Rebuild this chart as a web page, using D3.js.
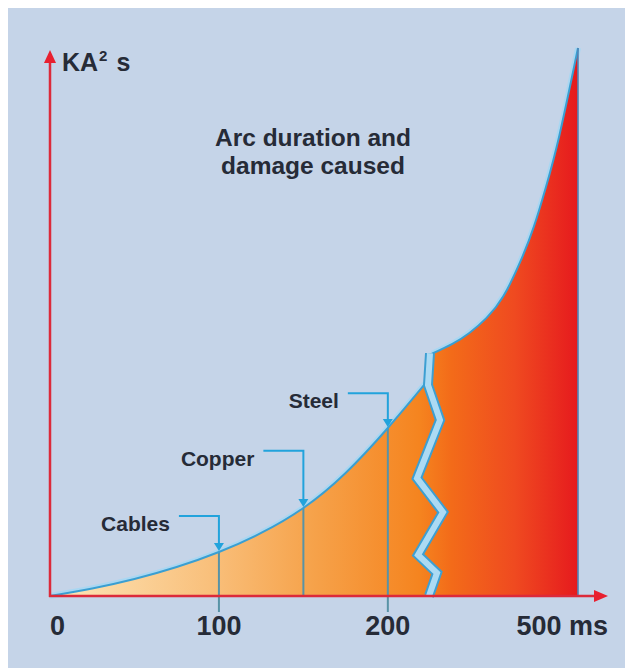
<!DOCTYPE html>
<html><head><meta charset="utf-8">
<script src="https://cdn.jsdelivr.net/npm/d3@7"></script>
<style>
body{margin:0;background:#fff}
text{font-family:"Liberation Sans",Arial,sans-serif;font-weight:bold;fill:#262b37}
</style>
</head><body>
<svg id="chart" width="625" height="668"></svg>
<script>
// ---- data ----
const leftTimes  = [0, 25, 50, 75, 100, 125, 150, 175, 200, 222];                 // ms
const leftValues = [0, 1.37, 3.10, 5.29, 8.03, 11.50, 16.06, 22.45, 30.66, 38.69]; // KA²s (relative)
const rightTimes  = [413, 426, 436, 446, 456, 466, 474, 481, 489, 500];
const rightValues = [44.2, 46.0, 48.0, 50.7, 54.7, 61.0, 67.4, 74.5, 84.0, 100];
const markerNames  = ["Cables", "Copper", "Steel"];
const markerTimes  = [100, 150, 200];
const markerLevels = [14.6, 26.5, 37.0];      // height of callout line (KA²s units)
const markerBelow  = [true, false, true];     // line continues below the axis
const tickValues = [0, 100, 200, 500];
const tickLabels = ["0", "100", "200", "500 ms"];
const breakTime = 222;
// axis-break zigzag: horizontal offset (px) from break, value (KA²s units)
const zigOffsets = [5, 3, 15, -8, 18, -7, 12, 4];
const zigValues  = [44.3, 38.5, 32.1, 21.5, 15.3, 7.5, 4.2, 0];
const titleLines = ["Arc duration and", "damage caused"];
const yTitle = "KA";

// ---- scales ----
const x = d3.scaleLinear().domain([0, 222, 414, 500]).range([50, 425, 432, 578]);
const y = d3.scaleLinear().domain([0, 100]).range([596, 48]);

const svg = d3.select("#chart");
svg.append("rect").attr("x", 8).attr("y", 8).attr("width", 617).attr("height", 660).attr("fill", "#c5d4e8");

const defs = svg.append("defs");
const grad = defs.append("linearGradient").attr("id", "g").attr("gradientUnits", "userSpaceOnUse")
  .attr("x1", x(0)).attr("x2", x(500)).attr("y1", 0).attr("y2", 0);
[[0, "#fde7ba"], [0.3, "#f9c07c"], [0.5, "#f6a24a"], [0.7, "#f5841f"], [0.76, "#f36b19"], [0.88, "#ef4a20"], [1, "#e61a1e"]]
  .forEach(([o, c]) => grad.append("stop").attr("offset", o).attr("stop-color", c));

const leftPts = leftTimes.map((t, i) => [x(t), y(leftValues[i])]);
const rightPts = rightTimes.map((t, i) => [x(t), y(rightValues[i])]);
const zigPts = zigOffsets.map((d, i) => [x(breakTime) + d, y(zigValues[i])]);
const curve = d3.line().curve(d3.curveNatural);

// halos
svg.append("path").attr("d", curve(leftPts)).attr("fill", "none").attr("stroke", "#a9d7f2").attr("stroke-width", 6);
svg.append("path").attr("d", curve(rightPts)).attr("fill", "none").attr("stroke", "#a9d7f2").attr("stroke-width", 6);

// left area
let dl = curve(leftPts);
zigPts.slice(1).forEach(p => dl += "L" + p[0] + "," + p[1]);
dl += "L" + x(0) + "," + y(0) + "Z";
svg.append("path").attr("d", dl).attr("fill", "url(#g)");
// right area
let dr = "M" + zigPts[zigPts.length - 1].join(",");
zigPts.slice().reverse().slice(1).forEach(p => dr += "L" + p[0] + "," + p[1]);
dr += curve(rightPts).replace(/^M/, "L");
dr += "L" + x(500) + "," + y(0) + "Z";
svg.append("path").attr("d", dr).attr("fill", "url(#g)");

// y on the rendered left curve at a given time
const probe = svg.append("path").attr("d", curve(leftPts)).attr("fill", "none").node();
const curveYAt = (t) => {
  const L = probe.getTotalLength(), px = x(t);
  let lo = 0, hi = L;
  for (let k = 0; k < 40; k++) { const m = (lo + hi) / 2; if (probe.getPointAtLength(m).x < px) lo = m; else hi = m; }
  return probe.getPointAtLength(lo).y;
};

// reference lines below the curve
markerTimes.forEach((t, i) => {
  const cy = curveYAt(t);
  svg.append("line").attr("x1", x(t)).attr("x2", x(t)).attr("y1", cy).attr("y2", markerBelow[i] ? y(0) + 16 : y(0))
    .attr("stroke", "#5893a6").attr("stroke-width", 2);
});

// curves
svg.append("path").attr("d", curve(leftPts)).attr("fill", "none").attr("stroke", "#3a9fd2").attr("stroke-width", 2);
svg.append("path").attr("d", curve(rightPts)).attr("fill", "none").attr("stroke", "#3a9fd2").attr("stroke-width", 2);
svg.append("line").attr("x1", x(500)).attr("x2", x(500)).attr("y1", y(100)).attr("y2", y(0))
  .attr("stroke", "#4f86b8").attr("stroke-width", 1.6);

// zigzag break band
const zl = d3.line();
svg.append("path").attr("d", zl(zigPts)).attr("fill", "none").attr("stroke", "#3d9fd2").attr("stroke-width", 10).attr("stroke-linejoin", "miter");
svg.append("path").attr("d", zl(zigPts)).attr("fill", "none").attr("stroke", "#acdaf3").attr("stroke-width", 6).attr("stroke-linejoin", "miter");

// callouts
markerTimes.forEach((t, i) => {
  const cx = x(t), cy = curveYAt(t), ly = y(markerLevels[i]);
  svg.append("path").attr("d", `M${cx - 40},${ly}L${cx},${ly}L${cx},${cy - 6}`)
    .attr("fill", "none").attr("stroke", "#22a3dc").attr("stroke-width", 2);
  svg.append("path").attr("d", `M${cx - 5},${cy - 9}L${cx + 5},${cy - 9}L${cx},${cy - 1}Z`).attr("fill", "#22a3dc");
  svg.append("text").attr("x", cx - 49).attr("y", ly + 15).attr("text-anchor", "end")
    .attr("font-size", 21).text(markerNames[i]);
});

// axes
const axisCol = "#dc2a3a";
svg.append("line").attr("x1", x(0)).attr("x2", x(0)).attr("y1", y(0) + 1).attr("y2", 60).attr("stroke", axisCol).attr("stroke-width", 2.5);
svg.append("path").attr("d", `M${x(0)},50L${x(0) + 6},63L${x(0) - 6},63Z`).attr("fill", "#e8202f");
svg.append("line").attr("x1", x(0) - 1).attr("x2", 598).attr("y1", y(0)).attr("y2", y(0)).attr("stroke", axisCol).attr("stroke-width", 2.5);
svg.append("path").attr("d", `M608,${y(0)}L594,${y(0) - 6}L594,${y(0) + 6}Z`).attr("fill", "#e8202f");

// tick labels
tickValues.forEach((v, i) => {
  const last = i === tickValues.length - 1, first = i === 0;
  svg.append("text").attr("x", first ? x(v) : last ? x(v) + 30 : x(v)).attr("y", 635)
    .attr("text-anchor", first ? "start" : last ? "end" : "middle").attr("font-size", 27).text(tickLabels[i]);
});

// y title
const yt = svg.append("text").attr("x", 62).attr("y", 71).attr("font-size", 25);
yt.append("tspan").text(yTitle);
yt.append("tspan").attr("font-size", 15).attr("dy", -10).attr("dx", 1).text("2");
yt.append("tspan").attr("dy", 10).attr("dx", 9).text("s");

// title
titleLines.forEach((s, i) => {
  svg.append("text").attr("x", 313).attr("y", 146 + i * 28).attr("text-anchor", "middle").attr("font-size", 24.5).text(s);
});
</script>
</body></html>
